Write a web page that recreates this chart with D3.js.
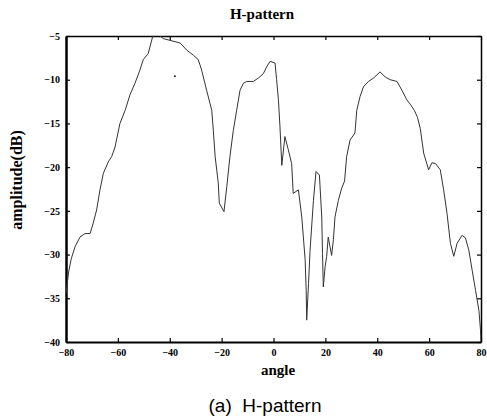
<!DOCTYPE html>
<html>
<head>
<meta charset="utf-8">
<script src="https://cdn.jsdelivr.net/npm/d3@7"></script>
<style>
  body { margin: 0; background: #fff; }
  svg { display: block; }
  .tick text { font-family: "Liberation Serif", serif; font-weight: bold; font-size: 10px; fill: #000; }
</style>
</head>
<body>
<svg width="487" height="419"></svg>
<script>
"use strict";

// measured H-plane pattern (angle in degrees, amplitude in dB)
const angles = [-80, -79, -78, -76.5, -74.6, -72.7, -70.7, -69.5, -68.2, -66.9, -65.6, -63.7, -62.4, -61.1,
    -59.2, -57.2, -55.3, -53.4, -51.5, -50.2, -48.3, -46.0, -44.5, -43.8, -42.5, -39.9, -36.0, -33.5, -30.9,
    -29.0, -27.7, -25.8, -23.8, -23.2, -22.5, -21.3, -20.9, -19.1, -18.0, -16.8, -15.5, -14.2, -12.9, -11.6,
    -10.3, -7.8, -5.8, -3.9, -2.6, -1.3, 0.6, 1.2, 1.9, 2.5, 3.2, 4.4, 5.7, 7.0, 7.6, 9.6, 10.9, 12.2, 12.6,
    12.8, 13.5, 14.1, 15.4, 16.4, 17.7, 18.6, 18.9, 19.2, 19.9, 20.5, 21.1, 21.8, 22.4, 23.1, 23.7, 25.0,
    26.3, 27.4, 28.2, 29.5, 31.4, 32.1, 33.4, 34.7, 36.6, 38.6, 41.1, 43.1, 45.0, 47.6, 49.5, 51.4, 52.7,
    54.3, 55.5, 56.6, 57.9, 59.8, 61.1, 62.5, 64.3, 65.6, 66.9, 68.2, 69.5, 70.8, 72.7, 74.0, 75.3, 76.6,
    77.9, 79.2, 79.8, 80];
const amplitudes = [-34.5, -32.0, -30.5, -29.1, -28.0, -27.6, -27.6, -26.4, -24.9, -22.6, -20.7, -19.4, -18.8, -17.7,
    -15.0, -13.5, -11.7, -10.4, -8.9, -7.7, -7.0, -4.4, -4.6, -5.0, -5.3, -5.5, -5.8, -6.6, -7.2,
    -7.7, -8.9, -11.2, -13.5, -15.8, -18.8, -21.8, -24.1, -25.1, -22.2, -18.8, -15.8, -13.5, -11.2, -10.4,
    -10.2, -10.2, -9.8, -9.3, -8.5, -7.9, -8.1, -10.0, -12.3, -15.4, -19.8, -16.5, -18.0, -19.6, -23.0, -22.6, -25.7, -30.6, -34.1,
    -37.5, -33.3, -29.5, -23.8, -20.5, -20.9, -25.7, -29.9, -33.7, -31.4, -30.2, -28.0, -29.1, -30.1, -28.3, -25.7, -23.8,
    -22.4, -21.6, -18.8, -16.9, -16.1, -13.5, -11.9, -10.8, -10.2, -9.8, -9.1, -9.7, -10.0, -10.2, -11.2, -12.3, -12.8,
    -13.5, -14.3, -15.6, -18.4, -20.3, -19.5, -19.6, -20.3, -22.6, -25.3, -28.7, -30.2, -28.7, -27.8, -28.1, -29.5, -31.8,
    -34.1, -36.4, -38.6, -40];
// lone stray sample printed on the plot
const strayAngle = [-38];
const strayAmp = [-9.6];

const xTicks = [-80, -60, -40, -20, 0, 20, 40, 60, 80];
const yTicks = [-40, -35, -30, -25, -20, -15, -10, -5];

const svg = d3.select("svg");
const plotLeft = 66, plotRight = 481, plotTop = 36, plotBottom = 342;

const x = d3.scaleLinear().domain([-80, 80]).range([plotLeft, plotRight]);
const y = d3.scaleLinear().domain([-40, -5]).range([plotBottom, plotTop]);

svg.append("clipPath").attr("id", "plotclip")
    .append("rect")
    .attr("x", plotLeft).attr("y", plotTop)
    .attr("width", plotRight - plotLeft).attr("height", plotBottom - plotTop);

// axes, ticks pointing inward like the original plot
svg.append("g")
    .attr("transform", `translate(0,${plotBottom})`)
    .call(d3.axisBottom(x).tickValues(xTicks).tickSizeInner(-4).tickSizeOuter(0).tickPadding(7).tickFormat(d3.format("d")))
    .call(g => g.select(".domain").attr("stroke-width", 2));

svg.append("g")
    .attr("transform", `translate(0,${plotTop})`)
    .call(d3.axisTop(x).tickValues(xTicks).tickSizeInner(-4).tickSizeOuter(0).tickFormat(""))
    .call(g => g.select(".domain").attr("stroke-width", 1.5));

svg.append("g")
    .attr("transform", `translate(${plotLeft},0)`)
    .call(d3.axisLeft(y).tickValues(yTicks).tickSizeInner(-4).tickSizeOuter(0).tickPadding(6).tickFormat(d3.format("d")))
    .call(g => g.select(".domain").attr("stroke-width", 2.5));

svg.append("g")
    .attr("transform", `translate(${plotRight},0)`)
    .call(d3.axisRight(y).tickValues(yTicks).tickSizeInner(-4).tickSizeOuter(0).tickFormat(""))
    .call(g => g.select(".domain").attr("stroke-width", 1.5));

svg.selectAll(".tick line").attr("stroke-width", 1.2);

const points = angles.map((a, i) => [a, amplitudes[i]]);
const line = d3.line().x(d => x(d[0])).y(d => y(d[1]));

svg.append("path")
    .datum(points)
    .attr("clip-path", "url(#plotclip)")
    .attr("fill", "none")
    .attr("stroke", "#333")
    .attr("stroke-width", 1)
    .attr("d", line);

svg.selectAll(".stray")
    .data(strayAngle.map((a, i) => [a, strayAmp[i]]))
    .join("circle")
    .attr("class", "stray")
    .attr("cx", d => x(d[0]))
    .attr("cy", d => y(d[1]))
    .attr("r", 1)
    .attr("fill", "#222");

svg.append("text")
    .attr("x", 262).attr("y", 19)
    .attr("text-anchor", "middle")
    .attr("font-family", "Liberation Serif, serif")
    .attr("font-weight", "bold")
    .attr("font-size", 15)
    .text("H-pattern");

svg.append("text")
    .attr("transform", `translate(22,180) rotate(-90)`)
    .attr("text-anchor", "middle")
    .attr("font-family", "Liberation Serif, serif")
    .attr("font-weight", "bold")
    .attr("font-size", 16)
    .text("amplitude(dB)");

svg.append("text")
    .attr("x", 278).attr("y", 375)
    .attr("text-anchor", "middle")
    .attr("font-family", "Liberation Serif, serif")
    .attr("font-weight", "bold")
    .attr("font-size", 15)
    .text("angle");

svg.append("text")
    .attr("x", 265).attr("y", 412)
    .attr("text-anchor", "middle")
    .attr("font-family", "Liberation Sans, Arial, sans-serif")
    .attr("font-size", 19)
    .attr("xml:space", "preserve")
    .text("(a)  H-pattern");
</script>
</body>
</html>
